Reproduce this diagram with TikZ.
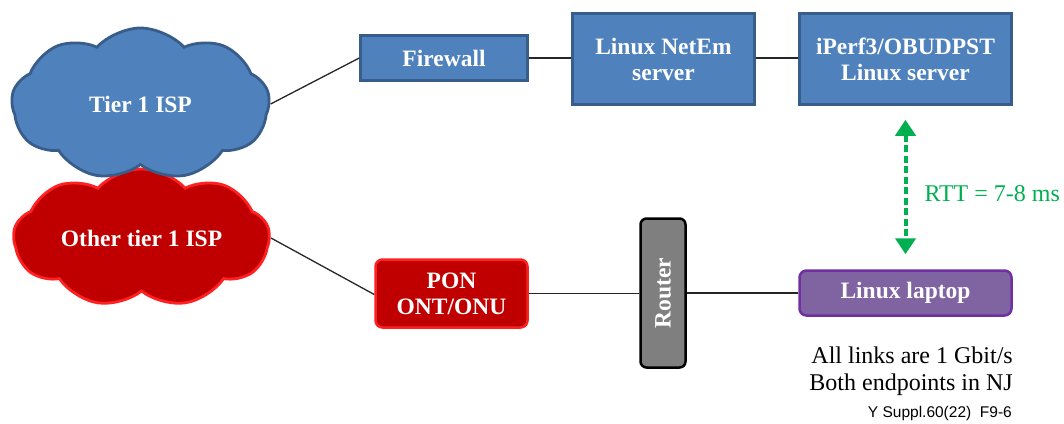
\documentclass[tikz,border=0pt]{standalone}
\usepackage{fontspec}
\setmainfont{Liberation Serif}
\newfontfamily\notefont{Liberation Sans}
\usetikzlibrary{shapes.symbols,arrows.meta}
\definecolor{bluefill}{HTML}{4F81BD}
\definecolor{bluebd}{HTML}{385D8A}
\definecolor{redfill}{HTML}{C00000}
\definecolor{redbd}{HTML}{FF2020}
\definecolor{greyfill}{HTML}{7F7F7F}
\definecolor{purplefill}{HTML}{8064A2}
\definecolor{purplebd}{HTML}{7030A0}
\definecolor{rttgreen}{HTML}{00B050}
\newcommand\boxfont{\fontsize{23.5}{26}\selectfont\bfseries}
\tikzset{
  cloudnode/.style={cloud, cloud puffs=9, cloud puff arc=95, cloud ignores aspect, line width=2.8pt, text=white, font=\boxfont, inner sep=0},
  bluebox/.style={draw=bluebd, fill=bluefill, line width=2.5pt, text=white, font=\boxfont, align=center, inner sep=0},
  ponbox/.style={draw=redbd, fill=redfill, line width=2.5pt, rounded corners=7pt, text=white, font=\boxfont, align=center, inner sep=0},
  routerbox/.style={draw=black, fill=greyfill, line width=2.5pt, rounded corners=6pt, text=white, font=\boxfont, inner sep=0},
  laptopbox/.style={draw=purplebd, fill=purplefill, line width=2.5pt, rounded corners=7pt, text=white, font=\boxfont, inner sep=0},
  link/.style={draw=black!85, line width=1.3pt},
  rtt/.style={draw=rttgreen, line width=4pt, dash pattern=on 7pt off 3.5pt, {Triangle[width=20pt,length=16pt]}-{Triangle[width=20pt,length=16pt]}}
}
\begin{document}
\begin{tikzpicture}[x=1pt,y=-1pt]
\useasboundingbox (0,0) rectangle (1064,423);
% clouds
\node[cloudnode, draw=redbd, fill=redfill, minimum width=256pt, minimum height=138pt] (ot) at (141.5,238) {Other tier 1 ISP};
\node[cloudnode, draw=bluebd, fill=bluefill, minimum width=258pt, minimum height=152pt] (t1) at (140.5,104) {Tier 1 ISP};
% boxes
\node[bluebox, minimum width=167pt, minimum height=45pt] (fw) at (444,58) {Firewall};
\node[bluebox, minimum width=182pt, minimum height=91pt] (ne) at (663.5,59) {Linux NetEm\\server};
\node[bluebox, minimum width=212pt, minimum height=91pt] (ip) at (905.5,59) {iPerf3/OBUDPST\\Linux server};
\node[ponbox, minimum width=152pt, minimum height=68pt] (pon) at (451.5,293.5) {PON\\ONT/ONU};
\node[routerbox, minimum width=45pt, minimum height=149pt] (rt) at (663,293) {\rotatebox{90}{Router}};
\node[laptopbox, minimum width=212pt, minimum height=45pt] (lap) at (905.5,293) {Linux laptop};
% links
\draw[link] (t1.east) -- (fw.west);
\draw[link] (fw.east) -- (fw.east -| ne.west);
\draw[link] (ne.east |- fw.east) -- (ip.west |- fw.east);
\draw[link] (ot.east) -- ([yshift=-1pt]pon.west);
\draw[link] (pon.east) -- (rt.west |- pon.east);
\draw[link] (rt.east |- lap.west) -- (lap.west);
% RTT arrow
\draw[rtt] ([yshift=-14pt]ip.south) -- node[pos=0.55, anchor=west, xshift=17pt, text=rttgreen, font=\fontsize{24}{26}\selectfont, inner sep=0] (rttl) {RTT = 7-8 ms} ([yshift=15pt]lap.north);
% notes
\node[anchor=east, align=right, inner sep=0, font=\fontsize{24}{27}\selectfont] (notes) at (1013,371) {All links are 1 Gbit/s\\Both endpoints in NJ};
\node[anchor=base east, inner sep=0, font=\notefont\fontsize{15.5}{18}\selectfont] (ref) at (1012,417) {Y Suppl.60(22)\ \ F9-6};
\end{tikzpicture}
\end{document}
